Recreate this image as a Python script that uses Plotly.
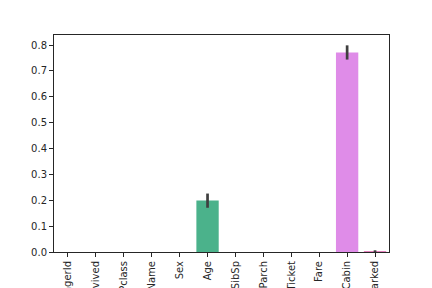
import plotly.graph_objects as go

columns = ["PassengerId", "Survived", "Pclass", "Name", "Sex", "Age",
           "SibSp", "Parch", "Ticket", "Fare", "Cabin", "Embarked"]
missing_frac = [0, 0, 0, 0, 0, 0.1987, 0, 0, 0, 0, 0.7710, 0.0022]
ci_low = [0, 0, 0, 0, 0, 0.171, 0, 0, 0, 0, 0.744, 0.0]
ci_high = [0, 0, 0, 0, 0, 0.226, 0, 0, 0, 0, 0.799, 0.0067]
bar_colors = ["#e0707f", "#d4834b", "#b09a45", "#8fa545", "#4daf56", "#4bb28b",
              "#4daea8", "#4fabc4", "#5d9fe0", "#a28ee5", "#df8ce8", "#e483bd"]

err_plus = [h - v for h, v in zip(ci_high, missing_frac)]
err_minus = [v - l for v, l in zip(missing_frac, ci_low)]

fig = go.Figure(go.Bar(
    x=list(range(len(columns))), y=missing_frac, width=0.8,
    marker=dict(color=bar_colors, line=dict(width=0)),
    error_y=dict(type="data", symmetric=False, array=err_plus, arrayminus=err_minus,
                 color="#3f3f3f", thickness=2.7, width=0),
))

font = dict(family="DejaVu Sans", size=10, color="#262626")
fig.update_layout(
    width=432, height=288, margin=dict(l=54, r=43, t=35, b=36),
    paper_bgcolor="white", plot_bgcolor="white", showlegend=False, font=font,
    bargap=0.2,
)
fig.update_xaxes(
    range=[-0.5, 11.5], tickmode="array", tickvals=list(range(len(columns))),
    ticktext=columns, tickangle=-90, ticks="outside", ticklen=4, tickwidth=1,
    tickcolor="#262626", showline=True, linecolor="#262626", linewidth=1, mirror=True,
    showgrid=False, zeroline=False, automargin=False, tickfont=font,
)
fig.update_yaxes(
    range=[0, 0.839], tickmode="array", tickvals=[0, 0.1, 0.2, 0.3, 0.4, 0.5, 0.6, 0.7, 0.8],
    tickformat=".1f", ticks="outside", ticklen=4, tickwidth=1, tickcolor="#262626",
    showline=True, linecolor="#262626", linewidth=1, mirror=True,
    showgrid=False, zeroline=False, automargin=False, tickfont=font,
)
fig.write_html("out.html")
